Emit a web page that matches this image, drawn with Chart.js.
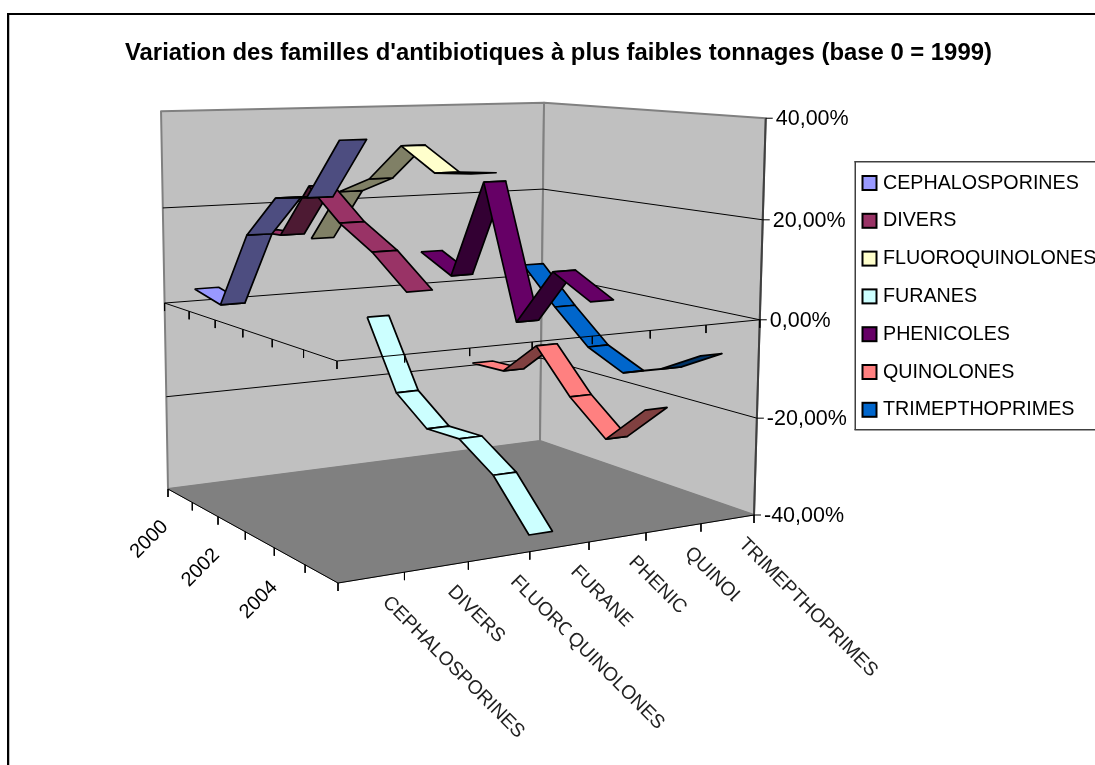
<!DOCTYPE html>
<html>
<head>
  <meta charset="utf-8">
  <title>Variation des familles d'antibiotiques</title>
  <script src="https://cdn.jsdelivr.net/npm/chart.js"></script>
</head>
<body style="margin:0;background:#fff">
<canvas id="myChart" width="1095" height="765" style="display:block"></canvas>
<script>
const titleText = "Variation des familles d'antibiotiques à plus faibles tonnages (base 0 = 1999)";
const categories = ['CEPHALOSPORINES', 'DIVERS', 'FLUOROQUINOLONES', 'FURANES', 'PHENICOLES', 'QUINOLONES', 'TRIMEPTHOPRIMES'];
const years = [2000, 2001, 2002, 2003, 2004, 2005];
const yearLabels = ['2000', '2002', '2004'];
const valueTicks = [40, 20, 0, -20, -40];
const valueLabels = ['40,00%', '20,00%', '0,00%', '-20,00%', '-40,00%'];

const cephalosporines = [3.5, 1.9, 17.3, 25.6, 26.7, 37.9];
const divers = [14.9, 15.3, 26.3, 20.2, 16.0, 10.1];
const fluoroquinolones = [12.5, 23.6, 27.2, 34.6, 30.2, 31.0];
const furanes = [-5.5, -20.1, -25.5, -25.1, -29.9, -38.9];
const phenicoles = [8.1, 4.3, 25.5, -2.2, 9.7, 5.4];
const quinolones = [-18.1, -17.8, -10.2, -19.1, -25.6, -17.2];
const trimepthoprimes = [3.5, -4.5, -11.6, -15.2, -12.3, -7.5];
const seriesValues = [cephalosporines, divers, fluoroquinolones, furanes, phenicoles, quinolones, trimepthoprimes];

const lightColors = ['#9999FF', '#993366', '#FFFFCC', '#CCFFFF', '#660066', '#FF8080', '#0066CC'];
const darkColors = ['#4D4D80', '#4D1A33', '#808066', '#668080', '#330033', '#804040', '#003366'];

// floor corners on screen: back-left, back-right, front-right, front-left
const floorQuad = [[168, 489], [540, 441], [754, 515], [338, 583]];
// what one full box height adds to the projection (x, y, w)
const riseX = -11.8, riseY = -381, riseW = -0.03;

function homography(q, s, t) {
  const [a, b, c, d] = q;
  const dx1 = b[0] - c[0], dx2 = d[0] - c[0], sx = a[0] - b[0] + c[0] - d[0];
  const dy1 = b[1] - c[1], dy2 = d[1] - c[1], sy = a[1] - b[1] + c[1] - d[1];
  const den = dx1 * dy2 - dx2 * dy1;
  const g = (sx * dy2 - dx2 * sy) / den, h = (dx1 * sy - sx * dy1) / den;
  const A = b[0] - a[0] + g * b[0], B = d[0] - a[0] + h * d[0];
  const D = b[1] - a[1] + g * b[1], E = d[1] - a[1] + h * d[1];
  return { X: A * s + B * t + a[0], Y: D * s + E * t + a[1], W: g * s + h * t + 1 };
}

// cat in category bands, yr in year bands, value in percent
function project(cat, yr, value) {
  const f = homography(floorQuad, cat / categories.length, yr / years.length);
  const z = (value + 40) / 80;
  const w = f.W + riseW * z;
  return { x: (f.X + riseX * z) / w, y: (f.Y + riseY * z) / w };
}

const datasets = [];
let order = 100000;
function addPath(points, opts) {
  datasets.push(Object.assign({
    type: 'line',
    data: points,
    order: order--,
    pointRadius: 0,
    tension: 0,
    borderColor: '#000',
    borderWidth: 1,
    fill: false
  }, opts));
}
function addPoly(points, color, border, width) {
  addPath(points.concat([points[0]]), {
    backgroundColor: color, fill: 'shape', borderColor: border, borderWidth: width,
    borderJoinStyle: 'round'
  });
}
function down(p, d) { return { x: p.x, y: p.y + d }; }

const nc = categories.length, ny = years.length;

// walls and floor
addPoly([project(0, 0, -40), project(nc, 0, -40), project(nc, 0, 40), project(0, 0, 40)], '#C0C0C0', '#808080', 2);
addPoly([project(nc, 0, -40), project(nc, ny, -40), project(nc, ny, 40), project(nc, 0, 40)], '#C0C0C0', '#808080', 2);
addPoly([project(0, 0, -40), project(nc, 0, -40), project(nc, ny, -40), project(0, ny, -40)], '#808080', '#808080', 1);
addPath([project(nc, ny, -40), project(nc, ny, 40)], { borderColor: '#404040', borderWidth: 2 });

// gridlines on the walls
[20, 0, -20].forEach(v => {
  addPath([project(0, 0, v), project(nc, 0, v), project(nc, ny, v)]);
});

// ribbons, far ones first; only clearly rising segments get the shaded colour
for (let c = nc - 1; c >= 0; c--) {
  const vals = seriesValues[c];
  for (let i = 0; i < ny - 1; i++) {
    const color = vals[i + 1] - vals[i] > 3 ? darkColors[c] : lightColors[c];
    addPoly([
      project(c + 0.3, i + 0.5, vals[i]),
      project(c + 0.7, i + 0.5, vals[i]),
      project(c + 0.7, i + 1.5, vals[i + 1]),
      project(c + 0.3, i + 1.5, vals[i + 1])
    ], color, '#000', 1.7);
  }
}

// axes with ticks at -40 and at the zero plane (the zero one sits over the ribbons)
[-40, 0].forEach(v => {
  addPath([project(0, 0, v), project(0, ny, v), project(nc, ny, v)]);
  for (let i = 0; i <= ny; i++) {
    const p = project(0, i, v);
    addPath([p, down(p, 8)]);
  }
  for (let i = 1; i <= nc; i++) {
    const p = project(i, ny, v);
    addPath([p, down(p, 8)]);
  }
});
valueTicks.forEach(v => {
  const p = project(nc, ny, v);
  addPath([p, { x: p.x + 7, y: p.y }]);
});

const FONT = '"Liberation Sans", Arial, sans-serif';
const labelCut = { 3: 77, 4: 73, 5: 68 };
const labelGap = { 2: [75, 81] };

const textPlugin = {
  id: 'textPlugin',
  afterDraw(chart) {
    const ctx = chart.ctx;
    ctx.save();

    // outer frame (only top and left fall inside the picture)
    ctx.fillStyle = '#000';
    ctx.fillRect(7, 13, 1088, 2);
    ctx.fillRect(7, 13, 2, 752);
    ctx.fillStyle = '#BFBFBF';
    ctx.fillRect(9, 15, 1, 750);

    // title
    ctx.fillStyle = '#000';
    ctx.textAlign = 'left';
    ctx.textBaseline = 'alphabetic';
    ctx.font = 'bold 23.86px ' + FONT;
    ctx.fillText(titleText, 125, 59.5);

    // value axis labels
    ctx.font = '21.5px ' + FONT;
    ctx.textBaseline = 'middle';
    valueTicks.forEach((v, i) => {
      const p = project(nc, ny, v);
      ctx.fillText(valueLabels[i], p.x + 10, p.y + 1);
    });

    // year labels
    ctx.font = '20px ' + FONT;
    ctx.textAlign = 'right';
    yearLabels.forEach(lbl => {
      const p = project(0, years.indexOf(Number(lbl)) + 0.5, -40);
      ctx.save();
      ctx.translate(p.x - 15, p.y + 28);
      ctx.rotate(-Math.PI / 4);
      ctx.fillText(lbl, 0, 0);
      ctx.restore();
    });

    // category labels, some of them cut short like in the original export
    ctx.textAlign = 'left';
    ctx.font = '19.3px ' + FONT;
    ctx.fillStyle = '#222';
    categories.forEach((lbl, c) => {
      const p = project(c + 0.5, ny, -40);
      ctx.save();
      ctx.translate(p.x + 14, p.y + 22);
      ctx.rotate(Math.PI / 4);
      if (labelCut[c]) {
        ctx.beginPath();
        ctx.rect(-5, -20, labelCut[c] + 5, 40);
        ctx.clip();
      }
      ctx.fillText(lbl, 0, 0);
      if (labelGap[c]) {
        ctx.clearRect(labelGap[c][0], -20, labelGap[c][1] - labelGap[c][0], 40);
      }
      ctx.restore();
    });

    // legend
    ctx.fillStyle = '#fff';
    ctx.fillRect(855, 162, 240, 268);
    ctx.fillStyle = '#404040';
    ctx.fillRect(854.5, 161, 241, 1.5);
    ctx.fillRect(854.5, 429, 241, 1.5);
    ctx.fillRect(854.5, 161, 1.5, 269);
    ctx.font = '19.7px ' + FONT;
    ctx.textBaseline = 'alphabetic';
    categories.forEach((lbl, c) => {
      const y = 176 + c * 37.8;
      ctx.fillStyle = lightColors[c];
      ctx.strokeStyle = '#000';
      ctx.lineWidth = 2;
      ctx.fillRect(862.5, y, 14, 14);
      ctx.strokeRect(862.5, y, 14, 14);
      ctx.fillStyle = '#000';
      ctx.fillText(lbl, 883, y + 12.5);
    });
    ctx.restore();
  }
};

new Chart(document.getElementById('myChart').getContext('2d'), {
  type: 'scatter',
  data: { datasets: datasets },
  options: {
    responsive: false,
    animation: false,
    layout: { padding: 0 },
    plugins: { legend: { display: false }, tooltip: { enabled: false } },
    scales: {
      x: { type: 'linear', min: 0, max: 1095, display: false },
      y: { type: 'linear', min: 0, max: 765, reverse: true, display: false }
    }
  },
  plugins: [textPlugin]
});
</script>
</body>
</html>
